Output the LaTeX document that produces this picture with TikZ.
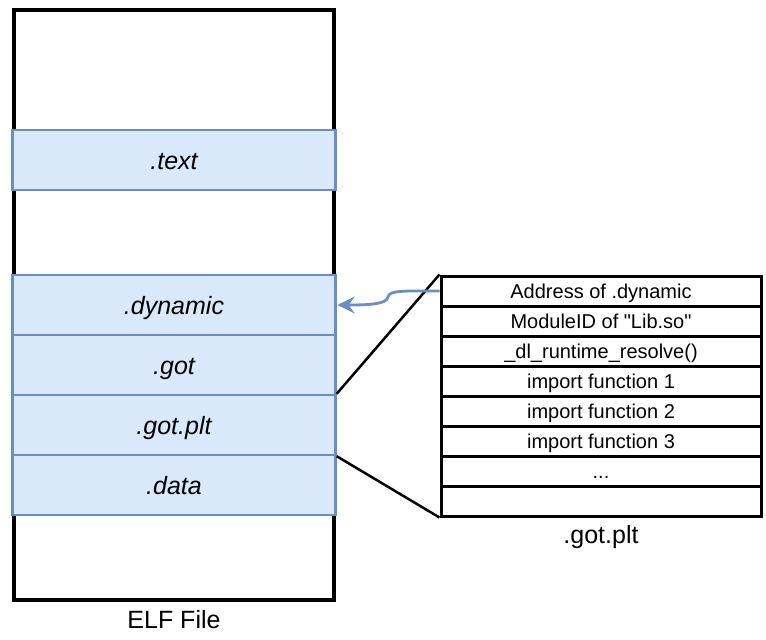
\documentclass[tikz,border=0pt]{standalone}
\usepackage{fontspec}
\setmainfont{Liberation Sans}[Ligatures=TeXOff]
\usetikzlibrary{arrows.meta}
\definecolor{secfill}{HTML}{DAE8FC}
\definecolor{secdraw}{HTML}{6C8EBF}
\begin{document}
\begin{tikzpicture}[x=1pt,y=-1pt,
  sec/.style={draw=secdraw, fill=secfill, line width=2.4pt, minimum width=323pt, minimum height=60pt, inner sep=0pt, text height=18pt, text depth=0pt, font=\fontsize{25}{30}\selectfont\itshape},
  cell/.style={draw=black, line width=3pt, minimum width=320pt, minimum height=30pt, inner sep=0pt, text height=14.4pt, text depth=0pt, font=\fontsize{20}{24}\selectfont},
  caption label/.style={font=\fontsize{25}{30}\selectfont, inner sep=0pt},
  conn/.style={draw=black, line width=2.5pt},
  ptr/.style={draw=secdraw, line width=2.8pt, -{Stealth[length=17pt,width=17pt,inset=6pt]}}]
\useasboundingbox (0,0) rectangle (766,640);
\node[draw, line width=4pt, minimum width=320pt, minimum height=590pt, inner sep=0pt] (elf) at (174,305) {};
\node[sec] (text) at (174,160) {.text};
\node[sec] (dyn) at (174,305) {.dynamic};
\node[sec] (got) at (174,365) {.got};
\node[sec] (gotplt) at (174,425) {.got.plt};
\node[sec] (data) at (174,485) {.data};
\node[caption label] (elfcap) at (174,620) {ELF File};

\node[cell] (r1) at (601,291) {Address of .dynamic};
\node[cell] (r2) at (601,321) {ModuleID of "Lib.so"};
\node[cell] (r3) at (601,351) {\_dl\_runtime\_resolve()};
\node[cell] (r4) at (601,381) {import function 1};
\node[cell] (r5) at (601,411) {import function 2};
\node[cell] (r6) at (601,441) {import function 3};
\node[cell] (r7) at (601,471) {...};
\node[cell] (r8) at (601,501) {};
\node[caption label] (tabcap) at (601,537) {.got.plt};

\draw[conn] (gotplt.north east) -- (r1.north west);
\draw[conn] (gotplt.south east) -- (r8.south west);

\coordinate (bend) at (388,297);
\draw[ptr] (r1.west) .. controls (405,291) and (389,290) .. (bend) .. controls (387,304) and (370,305) .. ([xshift=1pt]dyn.east);
\end{tikzpicture}
\end{document}
